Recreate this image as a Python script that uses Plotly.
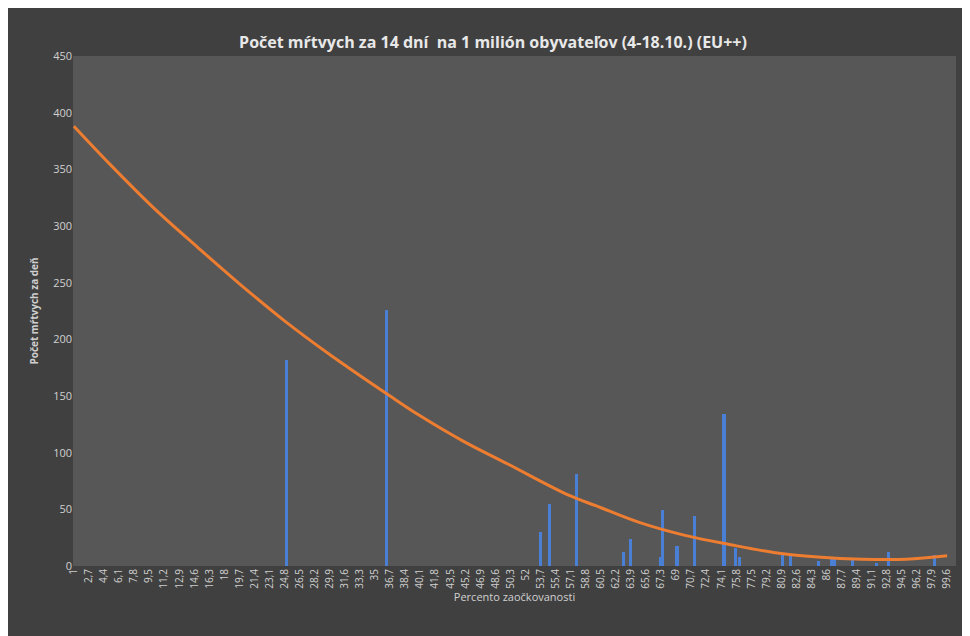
import plotly.graph_objects as go

bar_x = [25.0, 36.3, 53.65, 54.7, 57.8, 63.1, 63.8, 67.2, 67.5, 69.1, 71.1, 74.4, 75.7, 76.2,
         81.0, 81.9, 85.1, 86.5, 86.9, 88.9, 91.6, 93.0, 98.2]
bar_y = [182, 226, 30, 55, 81, 12, 24, 8, 49, 18, 44, 134, 16, 8,
         11, 11, 4, 8, 6, 5, 3, 12, 10]

trend_x = [1, 5, 10, 15, 20, 25, 30, 36.7, 40, 45, 50, 57, 60, 65, 70, 75, 80, 85, 90, 95, 99.6]
trend_y = [388, 355, 316, 281, 247, 215, 186, 150, 133, 110, 90, 62, 53, 38, 27, 19, 12, 8, 6, 6, 9]

tick_vals = [round(1 + 1.7 * i, 1) for i in range(59)]
tick_text = [("%g" % v).replace(".", ",") for v in tick_vals]

fig = go.Figure()
fig.add_trace(go.Bar(x=bar_x, y=bar_y, width=0.35, marker=dict(color="#4a7fd6", line=dict(width=0)),
                     showlegend=False))
fig.add_trace(go.Scatter(x=trend_x, y=trend_y, mode="lines", line=dict(color="#ed7d31", width=3, shape="spline"),
                         showlegend=False))

fig.update_layout(
    width=970, height=636,
    paper_bgcolor="#404040",
    plot_bgcolor="#575757",
    margin=dict(l=65, r=22, t=48, b=78),
    title=dict(text="<b>Počet mŕtvych za 14 dní  na 1 milión obyvateľov (4-18.10.) (EU++)</b>",
               x=0.5, y=0.955, xanchor="center", font=dict(family="Open Sans", size=16, color="#e8e8e8")),
    font=dict(family="Open Sans", color="#d0d0d0", size=11),
    xaxis=dict(range=[0.9, 100.6], tickmode="array", tickvals=tick_vals, ticktext=tick_text,
               tickangle=-90, tickfont=dict(size=10), showgrid=False, zeroline=False,
               title=dict(text="Percento zaočkovanosti", font=dict(size=11), standoff=4)),
    yaxis=dict(range=[0, 450], dtick=50, showgrid=False, zeroline=False, tickfont=dict(size=11),
               title=dict(text="<b>Počet mŕtvych za deň</b>", font=dict(size=10), standoff=12)),
    bargap=0,
)
fig.write_html("out.html")
